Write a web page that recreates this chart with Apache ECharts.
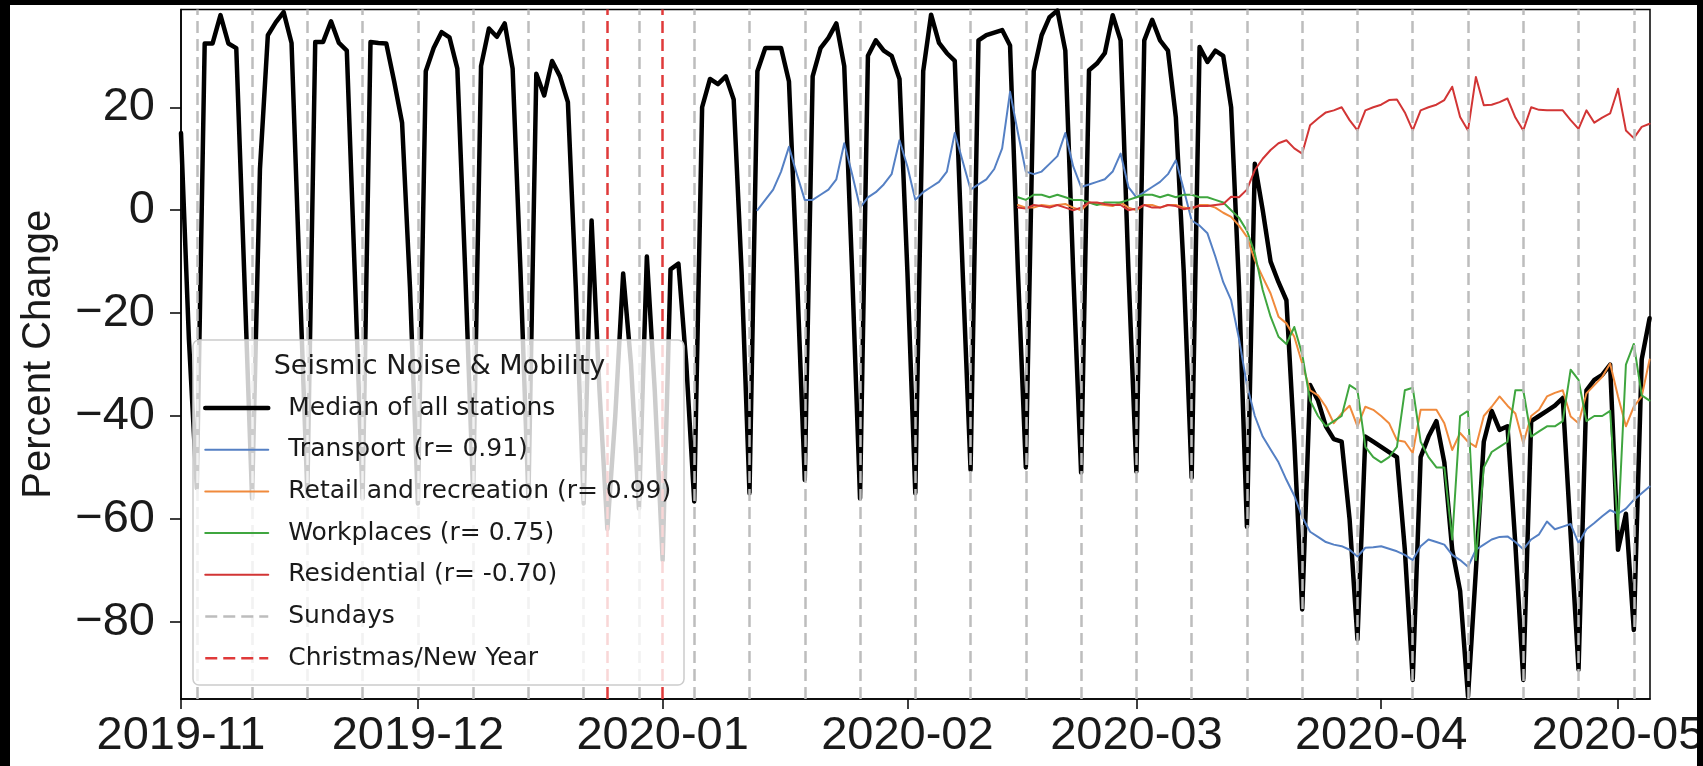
<!DOCTYPE html>
<html><head><meta charset="utf-8">
<script src="https://cdn.jsdelivr.net/npm/echarts@6/dist/echarts.min.js"></script>
<style>
html,body{margin:0;padding:0;background:#000;width:1703px;height:766px;overflow:hidden}
#chart{position:absolute;left:10px;top:5px;width:1687px;height:761px;background:#fff}
</style></head><body><div id="chart"></div>
<script>
// ---------------- data ----------------
const medianStart = '2019-11-01';
const median = [
  15, -25, -54,
  32.4, 32.4, 37.9, 32.4, 31.5, -12, -56,
  8, 34, 36.5, 38.5, 32.5, -12, -55,
  32.7, 32.7, 36.7, 32.5, 31, -12, -56,
  32.7, 32.5, 32.4, 25, 17, -15, -57,
  27, 31.5, 34.6, 33.6, 27.5, -12, -55,
  28, 35.3, 33.7, 36.3, 27.5, -12, -56,
  26.5, 22.3, 29, 26, 21, -15, -57,
  -2, -35, -62, -40, -12.3, -30, -58,
  -9, -35, -68, -11.5, -10.4, -30, -56.6,
  20, 25.5, 24.5, 26, 21.5, -12, -55,
  27, 31.5, 31.5, 31.5, 25, -12, -52.4,
  26, 31.5, 33.5, 36.3, 28, -12, -56,
  30, 33, 31, 30, 25.5, -12, -55,
  27, 38, 32.5, 30.5, 29, -12, -50.5,
  33, 34, 34.5, 35, 32, -12, -50,
  27, 34, 37.5, 38.8, 31, -12, -51,
  27.2, 28.5, 30.5, 37.9, 33, -12, -50.8,
  33, 37, 33, 31, 18, -12, -52,
  31.7, 28.8, 31, 30, 20, -15, -61.5,
  9, 0, -10, -14, -17.5, -45, -77.6,
  -34, -37, -42, -44.5, -45, -60, -83.4,
  -44, -45, -46, -47, -48, -66, -91.3,
  -48, -44, -41, -49, -66, -74, -94.5,
  -70, -45, -39, -42.7, -42, -65, -91.3,
  -41, -40, -39, -38, -36.5, -63, -89.3,
  -35, -33, -32, -30, -66, -59, -81.6,
  -29, -21
];
const transportStart = '2020-01-13';
const transport = [
  0, 2, 4, 7.5, 12.3, 7, 2,
  2, 3, 4, 6, 13, 7, 0.5,
  2.5, 3.5, 5, 7, 13.6, 8.5, 2,
  3.5, 4.5, 5.5, 7.5, 15, 9.5, 4,
  5, 6, 8, 12, 23, 15, 7.5,
  7, 7.5, 9, 10.5, 15, 8.5, 4.5,
  5, 5.5, 6, 7.5, 11, 4.5, 2.5,
  3.5, 4.5, 5.5, 7, 9.7, 4, -2,
  -3, -4.5, -9, -14, -17.5, -25, -34,
  -40, -44, -46.5, -49, -52.4, -55.5, -59.6,
  -62.5, -63.5, -64.5, -65, -65.3, -66, -67.3,
  -65.6, -65.5, -65.3, -65.8, -66.3, -67, -68,
  -65.3, -64, -64.5, -65, -67, -68, -69.3,
  -66, -65, -64, -63.5, -63.4, -64.5, -65.9,
  -64, -63, -60.5, -62, -61.5, -61, -64.7,
  -62, -60.8, -59.5, -58.3, -59, -58, -56.3,
  -55, -53.7
];
const mobilityStart = '2020-02-15';
const retail = [
  1, 0.5,
  0.5, 1, 0.8, 1, 1.2, 0.5, 0,
  1.5, 1.2, 1, 0.8, 1.5, 0.5, 0,
  1, 1, 0.5, 1, 1, 0.5, 0.2,
  1, 1, 0.5, -0.5, -1.3, -3, -5.2,
  -9.7, -13, -16.2, -20.7, -22, -24.6, -29.8,
  -35, -36, -38.2, -41.4, -39.5, -38, -42,
  -38.2, -38.8, -40, -41.4, -44.7, -45, -47.2,
  -38.8, -38.8, -38.8, -41.4, -46.6, -43.3, -45,
  -46, -40, -38.2, -36.2, -38, -39.5, -45.3,
  -40, -38.8, -36.2, -35.5, -35, -40.1, -41.4,
  -35.6, -34, -32.4, -29.8, -36.2, -42, -38.2,
  -36.2, -29
];
const workplaces = [
  2.5, 2,
  3, 3, 2.5, 3, 2.5, 2, 2,
  1.5, 1, 1.5, 1.5, 1.5, 2, 2.5,
  3, 3, 2.5, 3, 2.5, 3, 3,
  2.5, 2.5, 2, 1.5, 0, -1.5, -4,
  -8.4, -15.5, -20.7, -24.6, -26, -22.7, -28,
  -37, -40, -42, -41, -40, -34, -35,
  -46, -48, -49, -48, -46, -35, -34.5,
  -45, -48, -50, -50, -64, -40, -39,
  -68, -50, -47, -46, -45, -35, -35,
  -44, -43, -42, -42, -41, -31, -33,
  -41, -40, -40, -39, -62, -30, -26,
  -36, -37
];
const residential = [
  0.5, 0.3,
  1, 0.8, 0.5, 1, 0.5, 0, 0.5,
  1.5, 1.5, 1.2, 1, 1, 0, 0.3,
  1, 0.5, 0.5, 1, 0.8, 0.2, 0.5,
  0.8, 0.8, 1, 1.2, 2.6, 2.5, 4,
  7.8, 10, 11.7, 13, 13.6, 12, 11,
  16.5, 17.8, 19, 19.4, 20, 17.5, 15.5,
  19.4, 20, 20.5, 21.4, 21.5, 19, 15.5,
  19.4, 20, 20.5, 21.4, 24, 18.1, 15.5,
  25.9, 20.4, 20.5, 21, 21.7, 18, 15.5,
  20, 19.5, 19.4, 19.4, 19.4, 17.5, 15.8,
  19.4, 17, 18, 18.8, 23.6, 15.5, 14,
  16.2, 16.8
];
const sundays = [
  '2019-11-03','2019-11-10','2019-11-17','2019-11-24','2019-12-01','2019-12-08','2019-12-15',
  '2019-12-22','2019-12-29','2020-01-05','2020-01-12','2020-01-19','2020-01-26','2020-02-02',
  '2020-02-09','2020-02-16','2020-02-23','2020-03-01','2020-03-08','2020-03-15','2020-03-22',
  '2020-03-29','2020-04-05','2020-04-12','2020-04-19','2020-04-26','2020-05-03'
];
const holidays = ['2019-12-25', '2020-01-01'];
const xTicks = ['2019-11-01','2019-12-01','2020-01-01','2020-02-01','2020-03-01','2020-04-01','2020-05-01'];
const yTicks = [-80, -60, -40, -20, 0, 20];
const xRange = ['2019-11-01', '2020-05-05'];
const yRange = [-95, 39];
const names = [
  'Median of all stations',
  'Transport (r= 0.91)',
  'Retail and recreation (r= 0.99)',
  'Workplaces (r= 0.75)',
  'Residential (r= -0.70)',
  'Sundays',
  'Christmas/New Year'
];
const legendTitle = 'Seismic Noise & Mobility';
const yName = 'Percent Change';

// ---------------- helpers ----------------
const DAY = 86400000;
function ts(s) { const p = s.split('-').map(Number); return Date.UTC(p[0], p[1] - 1, p[2]); }
function daily(start, arr) { const t0 = ts(start); return arr.map((v, i) => [t0 + i * DAY, v]); }
function pad(n) { return n < 10 ? '0' + n : '' + n; }

const TICK_FONT = '"Liberation Sans", Arial, sans-serif';
const LEG_FONT = '"DejaVu Sans", sans-serif';
const TXT = '#1a1a1a';
const dash = [12, 6];

const colors = ['#000000', '#5580c4', '#f08a3c', '#3fa63f', '#d23535', '#bdbdbd', '#e03a3a'];
const widths = [4.5, 2, 2, 2, 2, 2.5, 2.5];

const chart = echarts.init(document.getElementById('chart'), null, { renderer: 'canvas' });

function lineSeries(i, start, arr, z) {
  return {
    name: names[i], type: 'line', data: daily(start, arr), symbol: 'none', showSymbol: false,
    color: colors[i], z, lineStyle: { color: colors[i], width: widths[i], join: 'round', cap: 'round' },
    emphasis: { disabled: true }, silent: true
  };
}
function vlineSeries(i, dates) {
  return {
    name: names[i], type: 'line', data: [], symbol: 'none', color: colors[i], z: 4,
    lineStyle: { color: colors[i], width: widths[i], type: dash },
    markLine: {
      silent: true, symbol: ['none', 'none'], label: { show: false },
      lineStyle: { color: colors[i], width: widths[i], type: dash },
      emphasis: { disabled: true },
      data: dates.map(d => ({ xAxis: ts(d) }))
    }
  };
}

const option = {
  animation: false,
  grid: {
    left: 171, right: 47, top: 4.5, bottom: 67, containLabel: false, outerBoundsMode: 'none',
    show: true, borderColor: '#000', borderWidth: 1.5, backgroundColor: 'transparent'
  },
  xAxis: {
    type: 'value', min: ts(xRange[0]), max: ts(xRange[1]) + 0.05 * DAY,
    axisLine: { show: true, onZero: false, lineStyle: { color: '#000', width: 1.5 } },
    axisTick: { show: true, length: 10, lineStyle: { color: '#000', width: 1.5 }, customValues: xTicks.map(ts) },
    axisLabel: {
      customValues: xTicks.map(ts), fontSize: 47, fontFamily: TICK_FONT, color: TXT, margin: 14,
      showMinLabel: true, showMaxLabel: true,
      formatter: v => { const d = new Date(v); return d.getUTCFullYear() + '-' + pad(d.getUTCMonth() + 1); }
    },
    splitLine: { show: false }
  },
  yAxis: {
    type: 'value', min: yRange[0], max: yRange[1],
    name: yName, nameLocation: 'middle', nameGap: 122,
    nameTextStyle: { fontSize: 40, fontFamily: TICK_FONT, color: TXT },
    axisLine: { show: true, onZero: false, lineStyle: { color: '#000', width: 1.5 } },
    axisTick: { show: true, length: 11, lineStyle: { color: '#000', width: 1.5 }, customValues: yTicks },
    axisLabel: {
      customValues: yTicks, fontSize: 47, fontFamily: TICK_FONT, color: TXT, margin: 26,
      formatter: v => (v < 0 ? '\u2212' + Math.abs(v) : String(v))
    },
    splitLine: { show: false }
  },
  legend: {
    orient: 'vertical', left: 193, top: 388, padding: 0, itemGap: 11.7,
    itemWidth: 63, itemHeight: 14, z: 8, selectedMode: false,
    itemStyle: { opacity: 0, borderWidth: 0 },
    textStyle: { fontSize: 25, fontFamily: LEG_FONT, color: TXT, lineHeight: 30, padding: [0, 0, 0, 15] },
    data: names.map((n, i) => ({
      name: n,
      itemStyle: { opacity: 0, borderWidth: 0 },
      lineStyle: { width: widths[i], color: colors[i], type: i >= 5 ? dash : 'solid' }
    }))
  },
  graphic: [
    { type: 'rect', z: 6, silent: true, shape: { x: 183, y: 335, width: 491, height: 345, r: 6 },
      style: { fill: 'rgba(255,255,255,0.8)', stroke: '#cccccc', lineWidth: 1.5 } },
    { type: 'text', z: 8, silent: true, x: 429.5, y: 362,
      style: { text: legendTitle, fontSize: 27, fontFamily: LEG_FONT, fill: TXT, align: 'center', verticalAlign: 'middle' } }
  ],
  series: [
    lineSeries(0, medianStart, median, 2),
    lineSeries(1, transportStart, transport, 3),
    lineSeries(2, mobilityStart, retail, 3),
    lineSeries(3, mobilityStart, workplaces, 3),
    lineSeries(4, mobilityStart, residential, 3),
    vlineSeries(5, sundays),
    vlineSeries(6, holidays)
  ]
};
chart.setOption(option);
</script></body></html>
